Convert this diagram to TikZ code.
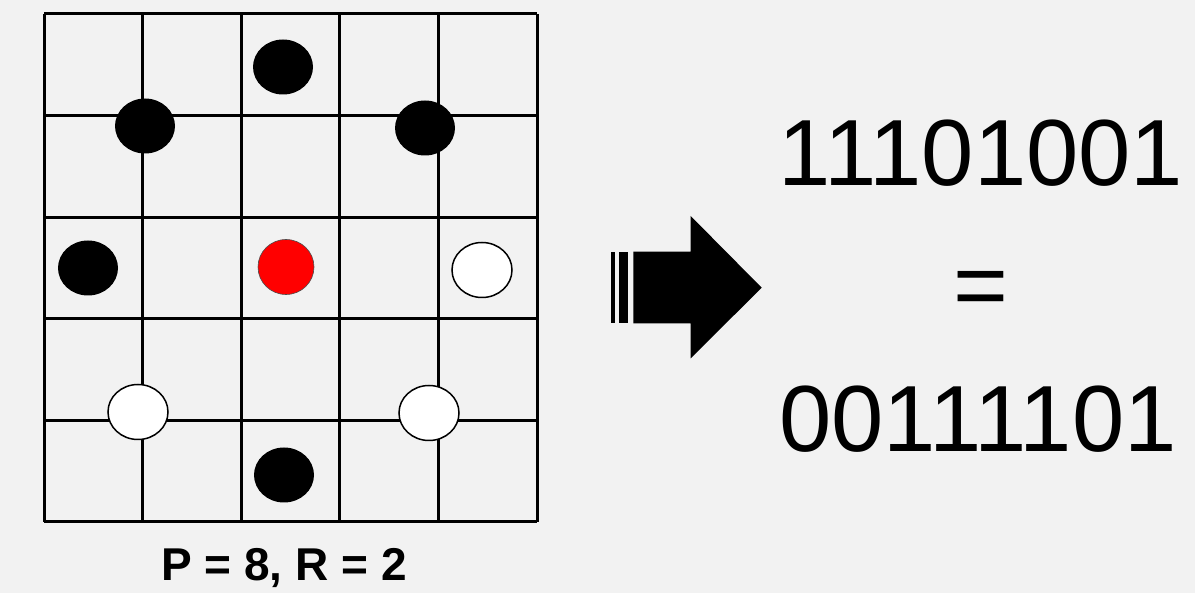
\documentclass[tikz,border=0pt]{standalone}
\usepackage{fontspec}
\setmainfont{Liberation Sans}
\usetikzlibrary{shapes.geometric}
\definecolor{bgcol}{HTML}{F2F2F2}
\tikzset{
  stone/.style={ellipse, inner sep=0pt, minimum width=60pt, minimum height=55pt},
  blackstone/.style={stone, fill=black},
  whitestone/.style={stone, fill=white, draw=black, line width=1.5pt},
  centrestone/.style={stone, fill=red, draw=black!70, line width=0.6pt, minimum width=56pt},
  bits/.style={font=\fontsize{94}{100}\selectfont},
}
\begin{document}
\begin{tikzpicture}[x=1pt, y=-1pt]
\fill[bgcol] (0,0) rectangle (1195,593);
\useasboundingbox (0,0) rectangle (1195,593);
% grid 5x5
\foreach \i in {0,...,5} {
  \draw[line width=3pt] (44+98.6*\i,14) -- (44+98.6*\i,522);
  \draw[line width=3pt] (44,14+101.6*\i) -- (537,14+101.6*\i);
}
% sampling points, P = 8 on radius 2
\node[blackstone] (p3) at (283,67) {};
\node[blackstone] (p2) at (145,126) {};
\node[blackstone] (p4) at (425,128) {};
\node[blackstone] (p1) at (88,268) {};
\node[centrestone] (c) at (286,267) {};
\node[whitestone] (p5) at (482,270) {};
\node[whitestone] (p8) at (138,412) {};
\node[whitestone] (p6) at (429,413) {};
\node[blackstone] (p7) at (284,475) {};
\node[font=\fontsize{46}{50}\selectfont\bfseries] (cap) at (284,568) {P = 8, R = 2};
% arrow
\fill (610.7,251.7) rectangle (615,323.3);
\fill (619.3,251.7) rectangle (628.3,323.3);
\fill (633.3,251.7) -- (690.7,251.7) -- (690.7,216) -- (761.7,287.7)
  -- (690.7,358.3) -- (690.7,323.3) -- (633.3,323.3) -- cycle;
% codes
\node[bits] (code) at (981,153) {11101001};
\node[bits] (eq) at (981,294) {=};
\node[bits] (rot) at (978,419) {00111101};
\end{tikzpicture}
\end{document}
